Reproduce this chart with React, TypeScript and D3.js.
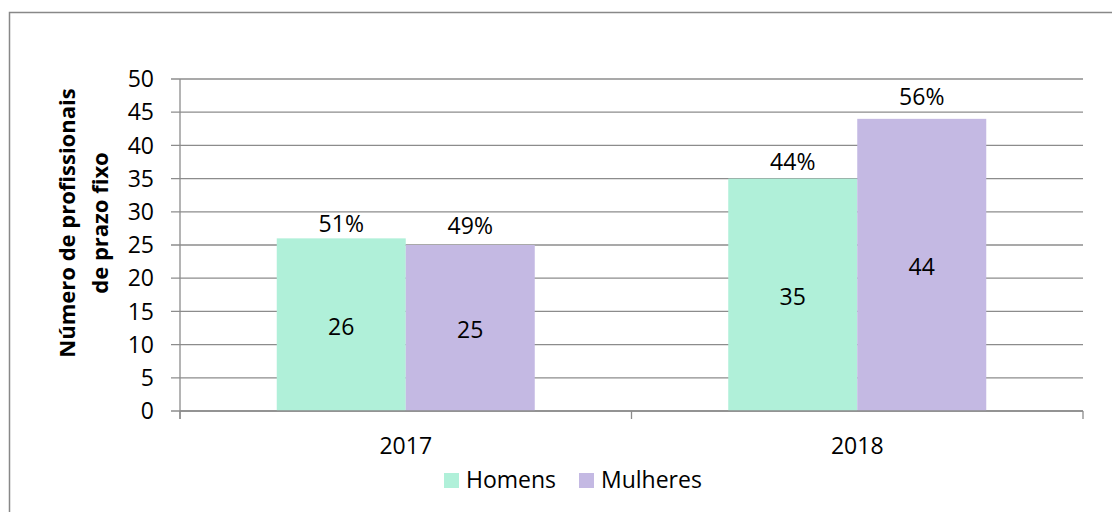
import React from "react";
import * as d3 from "d3";

const years = ["2017", "2018"];
const series = ["Homens", "Mulheres"];
const homens = [26, 35];
const mulheres = [25, 44];
const homensPct = ["51%", "44%"];
const mulheresPct = ["49%", "56%"];
const yTicks = [0, 5, 10, 15, 20, 25, 30, 35, 40, 45, 50];
const colors = ["#b0f0d9", "#c4b9e3"];

const W = 1112;
const H = 512;
const FONT = "'Open Sans', 'DejaVu Sans', sans-serif";
const FS = 23;
// gap (px) between top of bar and its percent label, as placed in the original
const pctLift = [
    [6, 9],
    [11, 14],
];

const App = () => {
    const left = 180;
    const right = 1083;
    const top = 79;
    const bottom = 411;

    const y = d3.scaleLinear().domain([0, 50]).range([bottom, top]);
    const x0 = d3.scaleBand().domain(years).range([left, right]).padding(0);
    const x1 = d3
        .scaleBand()
        .domain(series)
        .range([0, x0.bandwidth()])
        .paddingInner(0)
        .paddingOuter(0.75);

    const values = [homens, mulheres];
    const pcts = [homensPct, mulheresPct];

    // category boundaries for the bottom axis ticks
    const catEdges = [left, ...years.map((d) => x0(d) + x0.bandwidth())];

    return (
        <svg
            width={W}
            height={H}
            style={{ position: "absolute", left: 0, top: 0, background: "#fff" }}
            fontFamily={FONT}
        >
            {/* outer chart frame */}
            <rect x={9.5} y={12.5} width={W + 40} height={H + 40} fill="none" stroke="#888" strokeWidth={1.5} />

            {/* gridlines + y ticks */}
            {yTicks.map((t) => (
                <g key={t}>
                    <line x1={left - 9} x2={right} y1={y(t)} y2={y(t)} stroke="#8c8c8c" strokeWidth={1.3} />
                    <text x={154} y={y(t)} dy="0.36em" textAnchor="end" fontSize={FS} fill="#000">
                        {t}
                    </text>
                </g>
            ))}

            {/* bars */}
            {years.map((yr, i) => (
                <g key={yr} transform={`translate(${x0(yr)},0)`}>
                    {series.map((s, j) => {
                        const v = values[j][i];
                        const bx = x1(s);
                        const bw = x1.bandwidth();
                        return (
                            <g key={s}>
                                <rect x={bx} y={y(v)} width={bw} height={y(0) - y(v)} fill={colors[j]} />
                                <text x={bx + bw / 2} y={(y(v) + y(0)) / 2 + 2} dy="0.36em" textAnchor="middle" fontSize={FS} fill="#000">
                                    {v}
                                </text>
                                <text x={bx + bw / 2} y={y(v) - pctLift[j][i]} textAnchor="middle" fontSize={FS} fill="#000">
                                    {pcts[j][i]}
                                </text>
                            </g>
                        );
                    })}
                </g>
            ))}

            {/* axes */}
            <line x1={left} x2={left} y1={top} y2={bottom + 8} stroke="#8c8c8c" strokeWidth={1.3} />
            <line x1={left} x2={right} y1={bottom} y2={bottom} stroke="#8c8c8c" strokeWidth={1.3} />
            {catEdges.map((cx) => (
                <line key={cx} x1={cx} x2={cx} y1={bottom} y2={bottom + 8} stroke="#8c8c8c" strokeWidth={1.3} />
            ))}
            {years.map((yr) => (
                <text key={yr} x={x0(yr) + x0.bandwidth() / 2} y={454} textAnchor="middle" fontSize={FS} fill="#000">
                    {yr}
                </text>
            ))}

            {/* y axis title */}
            <g transform={`translate(0,${223}) rotate(-90)`} fontWeight="bold" fontSize={22} textAnchor="middle" fill="#000">
                <text x={0} y={75}>Número de profissionais</text>
                <text x={0} y={108}>de prazo fixo</text>
            </g>

            {/* legend */}
            {series.map((s, j) => {
                const lx = j === 0 ? 444 : 579;
                return (
                    <g key={s}>
                        <rect x={lx} y={473} width={15} height={15} fill={colors[j]} />
                        <text x={lx + 22} y={488} fontSize={FS} fill="#000">
                            {s}
                        </text>
                    </g>
                );
            })}
        </svg>
    );
};

export default App;
